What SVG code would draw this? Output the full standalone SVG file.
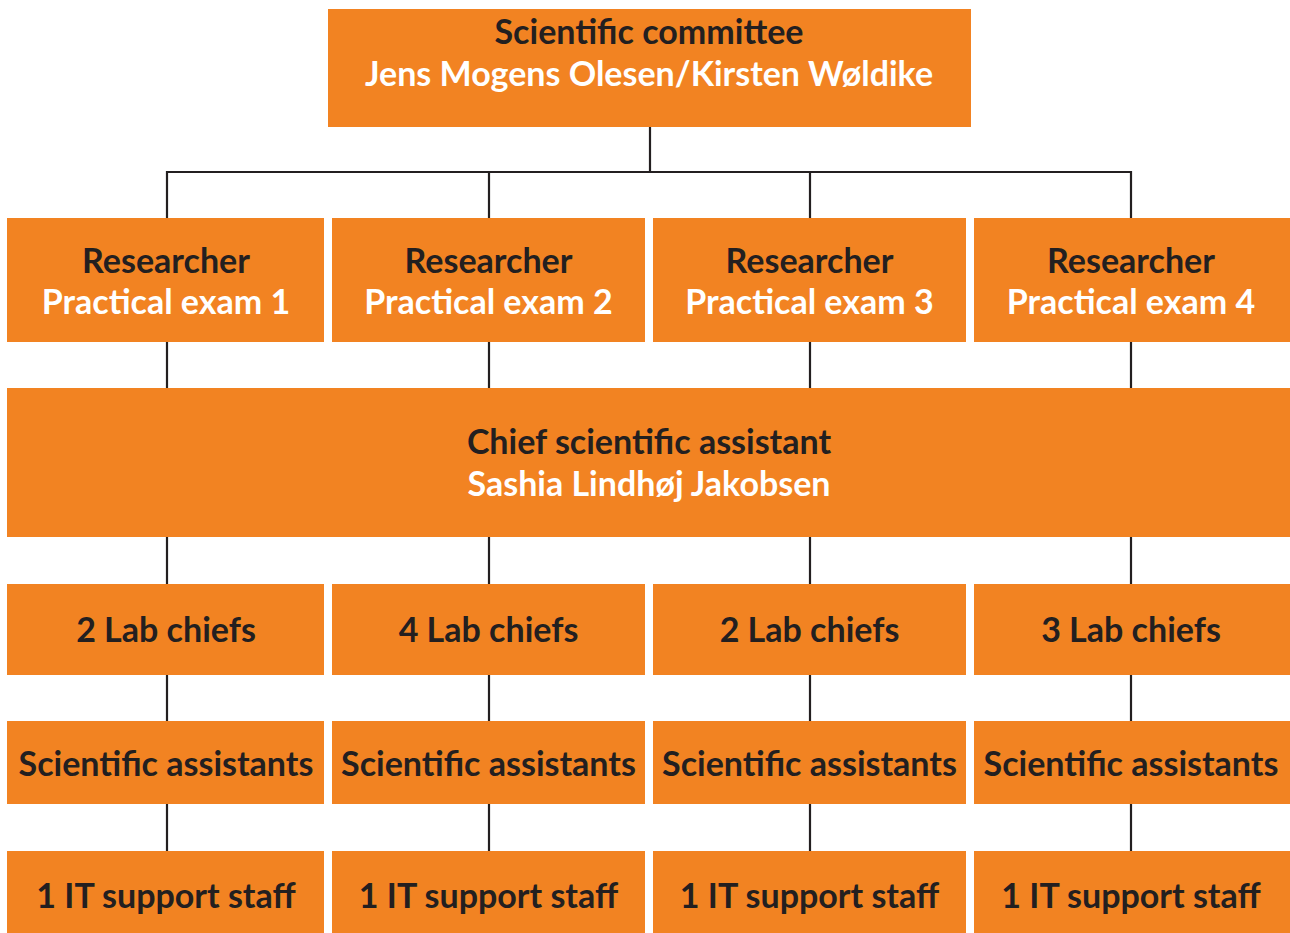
<svg xmlns="http://www.w3.org/2000/svg" width="1290" height="933" viewBox="0 0 1290 933">
<style>
.box{fill:#F28322}
.t{font-family:Lato,"Open Sans",sans-serif;font-weight:700;font-size:34px;text-anchor:middle}
.d{fill:#231F20}
.w{fill:#FFFFFF}
.ln{stroke:#231F20;stroke-width:2.2;fill:none}
</style>
<rect width="1290" height="933" fill="#fff"/>
<g id="connectors">
<path class="ln" d="M650 126V172M167 218V172H1131V218M489 172V218M810 172V218"/>
<path class="ln" d="M167 341V388M489 341V388M810 341V388M1131 341V388"/>
<path class="ln" d="M167 537V584M489 537V584M810 537V584M1131 537V584"/>
<path class="ln" d="M167 675V721M489 675V721M810 675V721M1131 675V721"/>
<path class="ln" d="M167 804V851M489 804V851M810 804V851M1131 804V851"/>
</g>
<g id="committee"><rect class="box" x="328" y="9" width="643" height="118"/>
<text class="t d" x="649" y="44">Scientific committee</text>
<text class="t w" x="649" y="86">Jens Mogens Olesen/Kirsten Wøldike</text></g>
<g id="researcher1"><rect class="box" x="7" y="218" width="317" height="124"/>
<text class="t d" x="166" y="273">Researcher</text><text class="t w" x="166" y="314">Practical exam 1</text></g>
<g id="researcher2"><rect class="box" x="332" y="218" width="313" height="124"/>
<text class="t d" x="488.5" y="273">Researcher</text><text class="t w" x="488.5" y="314">Practical exam 2</text></g>
<g id="researcher3"><rect class="box" x="653" y="218" width="313" height="124"/>
<text class="t d" x="809.5" y="273">Researcher</text><text class="t w" x="809.5" y="314">Practical exam 3</text></g>
<g id="researcher4"><rect class="box" x="974" y="218" width="316" height="124"/>
<text class="t d" x="1131" y="273">Researcher</text><text class="t w" x="1131" y="314">Practical exam 4</text></g>
<g id="chief"><rect class="box" x="7" y="388" width="1283" height="149"/>
<text class="t d" x="649" y="454">Chief scientific assistant</text>
<text class="t w" x="649" y="496">Sashia Lindhøj Jakobsen</text></g>
<g id="lab1"><rect class="box" x="7" y="584" width="317" height="91"/><text class="t d" x="166" y="642">2 Lab chiefs</text></g>
<g id="lab2"><rect class="box" x="332" y="584" width="313" height="91"/><text class="t d" x="488.5" y="642">4 Lab chiefs</text></g>
<g id="lab3"><rect class="box" x="653" y="584" width="313" height="91"/><text class="t d" x="809.5" y="642">2 Lab chiefs</text></g>
<g id="lab4"><rect class="box" x="974" y="584" width="316" height="91"/><text class="t d" x="1131" y="642">3 Lab chiefs</text></g>
<g id="assist1"><rect class="box" x="7" y="721" width="317" height="83"/><text class="t d" x="166" y="776">Scientific assistants</text></g>
<g id="assist2"><rect class="box" x="332" y="721" width="313" height="83"/><text class="t d" x="488.5" y="776">Scientific assistants</text></g>
<g id="assist3"><rect class="box" x="653" y="721" width="313" height="83"/><text class="t d" x="809.5" y="776">Scientific assistants</text></g>
<g id="assist4"><rect class="box" x="974" y="721" width="316" height="83"/><text class="t d" x="1131" y="776">Scientific assistants</text></g>
<g id="it1"><rect class="box" x="7" y="851" width="317" height="82"/><text class="t d" x="166" y="908">1 IT support staff</text></g>
<g id="it2"><rect class="box" x="332" y="851" width="313" height="82"/><text class="t d" x="488.5" y="908">1 IT support staff</text></g>
<g id="it3"><rect class="box" x="653" y="851" width="313" height="82"/><text class="t d" x="809.5" y="908">1 IT support staff</text></g>
<g id="it4"><rect class="box" x="974" y="851" width="316" height="82"/><text class="t d" x="1131" y="908">1 IT support staff</text></g>
</svg>
